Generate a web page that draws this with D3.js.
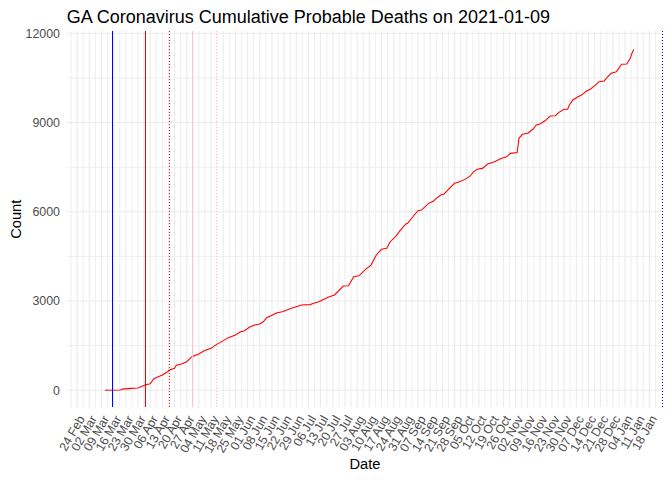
<!DOCTYPE html>
<html>
<head>
<meta charset="utf-8">
<script src="https://cdn.jsdelivr.net/npm/d3@7"></script>
<style>
  body { margin: 0; background: #fff; }
  svg { font-family: "Liberation Sans", Arial, sans-serif; }
</style>
</head>
<body>
<div id="chart"></div>
<script>
// chart data
var dates = ["2020-03-11","2020-03-20","2020-03-21","2020-03-26","2020-03-30","2020-03-31",
  "2020-04-03","2020-04-06","2020-04-08","2020-04-10","2020-04-13","2020-04-16","2020-04-17",
  "2020-04-20","2020-04-21","2020-04-24","2020-04-27","2020-04-30","2020-05-04","2020-05-07",
  "2020-05-11","2020-05-14","2020-05-17","2020-05-21","2020-05-25","2020-05-28","2020-05-30",
  "2020-06-02","2020-06-05","2020-06-08","2020-06-10","2020-06-12","2020-06-15","2020-06-18",
  "2020-06-21","2020-06-25","2020-06-28","2020-07-02","2020-07-07","2020-07-09","2020-07-12",
  "2020-07-14","2020-07-18","2020-07-21","2020-07-26","2020-07-29","2020-08-01","2020-08-04",
  "2020-08-08","2020-08-11","2020-08-14","2020-08-17","2020-08-20","2020-08-22","2020-08-25",
  "2020-08-28","2020-08-31","2020-09-01","2020-09-04","2020-09-07","2020-09-09","2020-09-13",
  "2020-09-16","2020-09-17","2020-09-20","2020-09-22","2020-09-25","2020-09-28","2020-09-30",
  "2020-10-04","2020-10-07","2020-10-09","2020-10-11","2020-10-14","2020-10-17","2020-10-21",
  "2020-10-25","2020-10-28","2020-10-30","2020-11-03","2020-11-04","2020-11-06","2020-11-09",
  "2020-11-12","2020-11-14","2020-11-16","2020-11-19","2020-11-22","2020-11-25","2020-11-27",
  "2020-11-30","2020-12-02","2020-12-03","2020-12-05","2020-12-08","2020-12-10","2020-12-13",
  "2020-12-15","2020-12-18","2020-12-20","2020-12-23","2020-12-25","2020-12-27","2020-12-30",
  "2021-01-02","2021-01-05","2021-01-07","2021-01-08","2021-01-09"];
var deaths = [0,10,40,65,80,100,
  180,220,380,440,515,625,680,
  740,840,885,960,1130,1220,1330,
  1410,1535,1635,1770,1860,1970,1995,
  2120,2195,2230,2305,2440,2520,2610,
  2640,2730,2790,2865,2880,2925,2980,
  3035,3145,3205,3505,3515,3820,3850,
  4075,4210,4550,4740,4775,4995,5165,
  5390,5590,5615,5835,6035,6060,6285,
  6365,6430,6565,6600,6790,6960,6990,
  7090,7205,7350,7430,7460,7605,7685,
  7800,7850,7965,7990,8470,8605,8640,
  8775,8920,8950,9060,9220,9230,9345,
  9445,9450,9590,9760,9870,9925,10070,
  10120,10260,10375,10400,10540,10655,10710,
  10960,10970,11160,11330,11460];

// event lines (date, colour, solid/dotted)
var eventDates = ["2020-03-15","2020-04-03","2020-04-17","2020-04-30","2020-05-14","2021-01-25"];
var eventColors = ["blue","red","red","pink","pink","blue"];
var eventDotted = [false,false,true,false,true,true];

var yTicks = [0, 3000, 6000, 9000, 12000];
var yMinor = [1500, 4500, 7500, 10500];
var firstBreak = "2020-02-24";
var lastBreak = "2021-01-18";

// chart set up
var width = 672;
var height = 480;
var panelLeft = 66.7;
var panelRight = 663.3;
var panelTop = 31.1;
var panelBottom = 407.4;
var parse = d3.utcParse("%Y-%m-%d");

var svg = d3.select("#chart")
  .append("svg")
  .attr("width", width)
  .attr("height", height);

// scales (5% padding like ggplot)
var xScale = d3.scaleUtc()
  .domain([parse("2020-02-18"), parse("2021-01-26")])
  .range([panelLeft, panelRight]);
var yScale = d3.scaleLinear()
  .domain([-575, 12075])
  .range([panelBottom, panelTop]);

// weekly (monday) breaks and half week minor breaks
var majors = d3.utcMonday.range(parse(firstBreak), d3.utcDay.offset(parse(lastBreak), 1));
var minors = majors.map(function(d) {
  return new Date(d.getTime() - 3.5 * 864e5);
});
minors.push(new Date(majors[majors.length - 1].getTime() + 3.5 * 864e5));

var grid = svg.append("g").attr("class", "grid");
grid.selectAll("line.hminor")
  .data(yMinor).enter()
  .append("line")
  .attr("x1", panelLeft).attr("x2", panelRight)
  .attr("y1", function(d) { return yScale(d); })
  .attr("y2", function(d) { return yScale(d); })
  .attr("stroke", "#EBEBEB").attr("stroke-width", 0.8);
grid.selectAll("line.vminor")
  .data(minors).enter()
  .append("line")
  .attr("y1", panelTop).attr("y2", panelBottom)
  .attr("x1", function(d) { return xScale(d); })
  .attr("x2", function(d) { return xScale(d); })
  .attr("stroke", "#EBEBEB").attr("stroke-width", 0.8);
grid.selectAll("line.hmajor")
  .data(yTicks).enter()
  .append("line")
  .attr("x1", panelLeft).attr("x2", panelRight)
  .attr("y1", function(d) { return yScale(d); })
  .attr("y2", function(d) { return yScale(d); })
  .attr("stroke", "#EBEBEB").attr("stroke-width", 1.07);
grid.selectAll("line.vmajor")
  .data(majors).enter()
  .append("line")
  .attr("y1", panelTop).attr("y2", panelBottom)
  .attr("x1", function(d) { return xScale(d); })
  .attr("x2", function(d) { return xScale(d); })
  .attr("stroke", "#EBEBEB").attr("stroke-width", 1.07);

// the cumulative line
var series = dates.map(function(d, i) {
  return { date: parse(d), value: deaths[i] };
});
var line = d3.line()
  .x(function(d) { return xScale(d.date); })
  .y(function(d) { return yScale(d.value); });
svg.append("path")
  .datum(series)
  .attr("d", line)
  .attr("fill", "none")
  .attr("stroke", "red")
  .attr("stroke-width", 1.07);

// event lines, snapped to whole pixels so the dots stay crisp
svg.selectAll("line.event")
  .data(eventDates).enter()
  .append("line")
  .attr("x1", function(d) { return Math.round(xScale(parse(d))) + 0.5; })
  .attr("x2", function(d) { return Math.round(xScale(parse(d))) + 0.5; })
  .attr("y1", panelTop).attr("y2", panelBottom)
  .attr("stroke", function(d, i) { return eventColors[i]; })
  .attr("stroke-width", 1)
  .attr("shape-rendering", "crispEdges")
  .attr("stroke-dasharray", function(d, i) { return eventDotted[i] ? "1,2" : null; });

// y axis labels
svg.selectAll("text.ylab")
  .data(yTicks).enter()
  .append("text")
  .attr("x", 60)
  .attr("y", function(d) { return yScale(d); })
  .attr("dy", "0.35em")
  .attr("text-anchor", "end")
  .attr("font-size", 12.4)
  .attr("fill", "#4D4D4D")
  .text(function(d) { return d; });

// x axis labels, rotated 60 degrees
var fmt = d3.utcFormat("%d %b");
svg.selectAll("text.xlab")
  .data(majors).enter()
  .append("text")
  .attr("transform", function(d) {
    return "translate(" + xScale(d) + "," + 414 + ")rotate(-60)";
  })
  .attr("dy", "0.75em")
  .attr("text-anchor", "end")
  .attr("font-size", 12.4)
  .attr("fill", "#4D4D4D")
  .text(function(d) { return fmt(d); });

// titles
svg.append("text")
  .attr("x", panelLeft)
  .attr("y", 23)
  .attr("font-size", 18)
  .attr("fill", "#000")
  .text("GA Coronavirus Cumulative Probable Deaths on 2021-01-09");
svg.append("text")
  .attr("x", (panelLeft + panelRight) / 2)
  .attr("y", 469)
  .attr("text-anchor", "middle")
  .attr("font-size", 14.7)
  .attr("fill", "#000")
  .text("Date");
svg.append("text")
  .attr("transform", "translate(20.5," + (panelTop + panelBottom) / 2 + ")rotate(-90)")
  .attr("text-anchor", "middle")
  .attr("font-size", 14.7)
  .attr("fill", "#000")
  .text("Count");
</script>
</body>
</html>
